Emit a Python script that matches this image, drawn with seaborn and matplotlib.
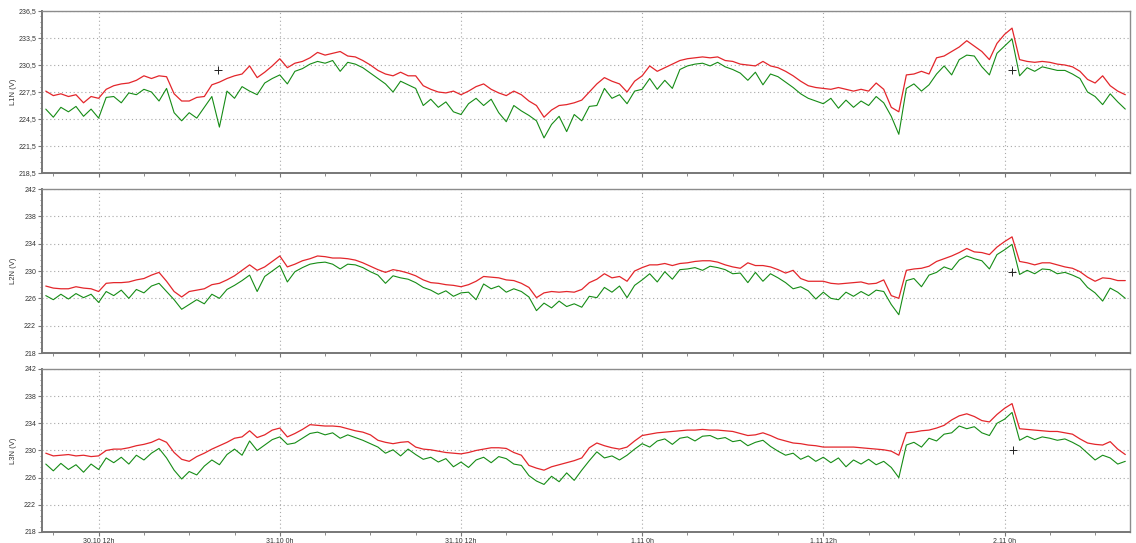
"""
Three-phase line-to-neutral voltage log (L1N / L2N / L3N), 30.10 - 2.11.
Red = maximum per interval, green = minimum per interval.
"""

import numpy as np
import pandas as pd
import matplotlib
matplotlib.use("Agg")
import matplotlib.pyplot as plt
import matplotlib.dates as mdates
import matplotlib.ticker as ticker
import seaborn as sns

# ---------------------------------------------------------------------------
# Data (30-minute steps from 30.10 08:30)
# ---------------------------------------------------------------------------

START = "2023-10-30 08:30"
STEP = "30min"

l1_max = [
    227.6, 227.1, 227.3, 227.0, 227.2, 226.3, 227.0, 226.8,
    227.8, 228.2, 228.4, 228.5, 228.8, 229.3, 229.0, 229.3,
    229.2, 227.3, 226.5, 226.5, 226.9, 227.0, 228.3, 228.6,
    229.0, 229.3, 229.5, 230.4, 229.1, 229.7, 230.4, 231.2,
    230.2, 230.7, 230.9, 231.3, 231.9, 231.6, 231.8, 232.0,
    231.5, 231.4, 231.0, 230.5, 229.9, 229.5, 229.3, 229.7,
    229.3, 229.3, 228.2, 227.8, 227.5, 227.4, 227.6, 227.2,
    227.6, 228.1, 228.4, 227.8, 227.4, 227.1, 227.6, 227.2,
    226.5, 226.0, 224.7, 225.5, 226.0, 226.1, 226.3, 226.6,
    227.5, 228.4, 229.1, 228.7, 228.4, 227.5, 228.7, 229.3,
    230.4, 229.8, 230.2, 230.6, 231.0, 231.2, 231.3, 231.4,
    231.3, 231.4, 231.0, 230.9, 230.6, 230.5, 230.4, 230.9,
    230.4, 230.2, 229.8, 229.3, 228.7, 228.2, 228.0, 227.9,
    227.8, 228.0, 227.8, 227.6, 227.8, 227.6, 228.5, 227.8,
    225.8, 225.3, 229.4, 229.5, 229.8, 229.5, 231.3, 231.5,
    232.0, 232.5, 233.2, 232.6, 232.0, 231.1, 232.9, 233.9,
    234.6, 231.1, 230.9, 230.8, 230.9, 230.8, 230.6, 230.5,
    230.3, 229.8, 228.9, 228.5, 229.3, 228.2, 227.6, 227.2,
]
l1_min = [
    225.6, 224.7, 225.8, 225.3, 225.9, 224.8, 225.6, 224.6,
    226.9, 227.0, 226.3, 227.4, 227.2, 227.8, 227.5, 226.5,
    227.9, 225.2, 224.3, 225.2, 224.6, 225.8, 227.0, 223.6,
    227.6, 226.8, 228.1, 227.6, 227.2, 228.5, 229.0, 229.4,
    228.4, 229.8, 230.1, 230.6, 230.9, 230.7, 231.0, 229.8,
    230.8, 230.6, 230.2, 229.6, 229.0, 228.4, 227.5, 228.7,
    228.3, 227.9, 226.0, 226.7, 225.8, 226.4, 225.3, 225.0,
    226.2, 226.8, 226.0, 226.7, 225.2, 224.2, 226.0, 225.4,
    224.9, 224.3, 222.4, 223.9, 224.8, 223.1, 225.0, 224.3,
    225.9, 226.0, 227.9, 226.8, 227.2, 226.2, 227.6, 227.8,
    229.0, 227.8, 228.8, 227.9, 230.0, 230.4, 230.6, 230.7,
    230.4, 230.8, 230.3, 230.0, 229.6, 228.8, 229.7, 228.3,
    229.5, 229.2, 228.6, 228.0, 227.3, 226.8, 226.5, 226.2,
    226.8, 225.7, 226.6, 225.8, 226.5, 226.0, 227.0, 226.3,
    224.8, 222.8, 227.9, 228.4, 227.6, 228.3, 229.5, 230.4,
    229.4, 231.1, 231.6, 231.5, 230.3, 229.4, 231.8, 232.6,
    233.4, 229.3, 230.2, 229.8, 230.3, 230.1, 229.9, 229.9,
    229.5, 229.0, 227.5, 227.0, 226.1, 227.3, 226.4, 225.6,
]

l2_max = [
    227.8, 227.5, 227.4, 227.4, 227.7, 227.5, 227.4, 227.0,
    228.2, 228.3, 228.3, 228.4, 228.7, 228.9, 229.4, 229.8,
    228.5, 227.0, 226.2, 227.0, 227.2, 227.4, 228.0, 228.2,
    228.7, 229.3, 230.1, 230.9, 230.1, 230.6, 231.4, 232.2,
    230.6, 231.0, 231.5, 231.8, 232.2, 232.1, 231.9, 231.9,
    231.8, 231.6, 231.2, 230.7, 230.2, 229.8, 230.2, 230.0,
    229.7, 229.3, 228.7, 228.3, 228.2, 228.0, 227.9, 227.7,
    228.0, 228.5, 229.2, 229.1, 229.0, 228.7, 228.6, 228.2,
    227.6, 226.1, 226.8, 227.0, 226.9, 227.0, 226.9, 227.3,
    228.3, 228.8, 229.6, 229.0, 229.2, 228.5, 230.0, 230.5,
    230.9, 230.9, 231.1, 230.8, 231.1, 231.2, 231.4, 231.5,
    231.5, 231.3, 230.9, 230.6, 230.4, 231.2, 230.8, 230.8,
    230.6, 230.2, 229.7, 230.1, 228.9, 228.5, 228.5, 228.5,
    228.2, 228.1, 228.2, 228.3, 228.4, 228.1, 228.2, 228.7,
    226.4, 226.0, 230.1, 230.3, 230.4, 230.7, 231.4, 231.8,
    232.2, 232.7, 233.3, 232.8, 232.7, 232.4, 233.5, 234.3,
    235.0, 231.4, 231.2, 230.9, 231.2, 231.2, 230.9, 230.6,
    230.4, 229.9, 229.1, 228.5, 229.0, 228.9, 228.6, 228.6,
]
l2_min = [
    226.4, 225.8, 226.6, 225.9, 226.7, 226.1, 226.6, 225.4,
    227.0, 226.4, 227.2, 226.0, 227.3, 226.8, 227.8, 228.2,
    227.0, 225.8, 224.4, 225.1, 225.8, 225.2, 226.6, 226.0,
    227.3, 227.9, 228.6, 229.4, 227.0, 229.2, 230.0, 230.8,
    228.4, 229.9, 230.5, 231.0, 231.2, 231.3, 231.0, 230.3,
    231.0, 230.9, 230.5, 229.9, 229.4, 228.2, 229.3, 229.0,
    228.8, 228.3, 227.6, 227.2, 226.6, 227.1, 226.3, 226.8,
    226.9, 225.8, 228.1, 227.4, 227.8, 226.9, 227.4, 227.0,
    226.2, 224.2, 225.3, 224.6, 225.6, 224.8, 225.2, 224.7,
    226.3, 226.1, 227.6, 226.9, 227.8, 226.1, 227.9, 228.7,
    229.6, 228.4, 229.9, 228.8, 230.2, 230.3, 230.5, 230.1,
    230.7, 230.5, 230.2, 229.6, 229.7, 228.3, 229.8, 228.5,
    229.6, 229.0, 228.3, 227.4, 227.7, 227.1, 225.9, 226.9,
    226.0, 225.8, 226.9, 226.3, 227.0, 226.4, 227.2, 227.0,
    225.1, 223.6, 228.6, 228.9, 227.7, 229.4, 229.8, 230.6,
    230.2, 231.6, 232.2, 231.8, 231.5, 230.3, 232.4, 233.1,
    233.9, 229.5, 230.1, 229.6, 230.3, 230.2, 229.6, 229.8,
    229.4, 228.9, 227.6, 226.8, 225.6, 227.5, 226.9, 226.0,
]

l3_max = [
    229.6, 229.2, 229.3, 229.4, 229.2, 229.3, 229.1, 229.2,
    230.0, 230.2, 230.2, 230.4, 230.7, 230.9, 231.2, 231.7,
    231.2, 229.7, 228.7, 228.4, 229.1, 229.6, 230.2, 230.7,
    231.2, 231.8, 232.0, 232.9, 231.9, 232.3, 233.0, 233.3,
    232.0, 232.5, 233.1, 233.8, 233.7, 233.6, 233.6, 233.5,
    233.2, 232.9, 232.7, 232.3, 231.5, 231.2, 231.0, 231.2,
    231.3, 230.5, 230.2, 230.1, 229.9, 229.7, 229.6, 229.5,
    229.7, 230.0, 230.2, 230.4, 230.4, 230.3, 229.7, 229.3,
    227.8, 227.4, 227.1, 227.6, 227.9, 228.2, 228.5, 228.9,
    230.4, 231.1, 230.7, 230.4, 230.2, 230.5, 231.4, 232.2,
    232.4, 232.6, 232.7, 232.8, 232.9, 233.0, 233.0, 233.1,
    233.0, 233.0, 232.9, 232.8, 232.5, 232.2, 232.3, 232.6,
    232.2, 231.7, 231.4, 231.1, 231.0, 230.8, 230.7, 230.5,
    230.5, 230.5, 230.5, 230.5, 230.4, 230.3, 230.2, 230.1,
    229.9, 229.3, 232.6, 232.7, 232.9, 233.0, 233.3, 233.7,
    234.5, 235.1, 235.4, 235.0, 234.4, 234.2, 235.3, 236.2,
    236.9, 233.2, 233.1, 233.0, 232.9, 232.8, 232.8, 232.6,
    232.4, 231.7, 231.1, 230.9, 230.8, 231.3, 230.2, 229.4,
]
l3_min = [
    228.0, 227.0, 228.1, 227.2, 227.9, 226.8, 228.0, 227.2,
    228.9, 228.2, 229.0, 228.0, 229.3, 228.6, 229.6, 230.3,
    228.9, 227.1, 225.8, 226.9, 226.4, 227.7, 228.6, 227.9,
    229.4, 230.2, 229.3, 231.4, 230.0, 230.8, 231.6, 232.0,
    230.9, 231.1, 231.8, 232.5, 232.7, 232.3, 232.6, 231.8,
    232.3, 231.9, 231.5, 231.0, 230.5, 229.6, 230.1, 229.2,
    230.2, 229.4, 228.7, 229.0, 228.3, 228.8, 227.6, 228.3,
    227.5, 228.6, 229.0, 228.2, 229.1, 228.8, 228.0, 227.8,
    226.3, 225.5, 225.0, 226.2, 225.4, 226.7, 225.6, 227.1,
    228.5, 229.8, 228.9, 229.2, 228.6, 229.3, 230.2, 231.0,
    230.5, 231.4, 231.7, 230.9, 231.8, 232.0, 231.4, 232.1,
    232.2, 231.7, 231.9, 231.3, 231.5, 230.7, 231.2, 231.5,
    230.6, 229.9, 229.3, 229.6, 228.7, 229.2, 228.4, 229.0,
    228.2, 228.9, 227.6, 228.6, 228.0, 228.7, 227.9, 228.4,
    227.5, 226.0, 230.8, 231.2, 230.5, 231.8, 231.4, 232.4,
    232.6, 233.6, 233.2, 233.5, 232.6, 232.2, 234.0, 234.6,
    235.6, 231.5, 232.1, 231.6, 232.0, 231.8, 231.5, 231.7,
    231.2, 230.6, 229.6, 228.6, 229.3, 228.9, 228.0, 228.4,
]

# cursor crosses per panel
cursor_times = [
    ["2023-10-30 19:53", "2023-11-02 00:30"],
    ["2023-11-02 00:30"],
    ["2023-11-02 00:33"],
]
cursor_values = [[229.9, 229.9], [229.8], [230.1]]

labels = ["L1N (V)", "L2N (V)", "L3N (V)"]
yticks = [
    [218.5, 221.5, 224.5, 227.5, 230.5, 233.5, 236.5],
    [218, 222, 226, 230, 234, 238, 242],
    [218, 222, 226, 230, 234, 238, 242],
]

X_START = pd.Timestamp("2023-10-30 08:16")
X_END = pd.Timestamp("2023-11-02 08:20")

RED = "#e3262b"
GREEN = "#168c16"
FRAME = "#8c8c8c"

# ---------------------------------------------------------------------------
# Plot
# ---------------------------------------------------------------------------

sns.set_style("white")
plt.rcParams["font.family"] = ["Liberation Sans", "DejaVu Sans"]

times = pd.date_range(START, periods=len(l1_max), freq=STEP)
series = [(l1_max, l1_min), (l2_max, l2_min), (l3_max, l3_min)]

fig = plt.figure(figsize=(11.36, 5.43), dpi=100)
boxes = [
    (0.0372, 0.6814, 0.9578, 0.2983),
    (0.0372, 0.3499, 0.9578, 0.3020),
    (0.0372, 0.0203, 0.9578, 0.3002),
]


def day_hour(x, _pos):
    d = mdates.num2date(x)
    return f"{d.day}.{d.month} {d.hour}h"


for i, (vmax, vmin) in enumerate(series):
    ax = fig.add_axes(boxes[i])
    df = pd.DataFrame({"time": times, "max": vmax, "min": vmin})

    sns.lineplot(data=df, x="time", y="min", ax=ax, color=GREEN,
                 linewidth=0.8, estimator=None, legend=False)
    sns.lineplot(data=df, x="time", y="max", ax=ax, color=RED,
                 linewidth=0.9, estimator=None, legend=False)

    cur = pd.DataFrame({"time": pd.to_datetime(cursor_times[i]),
                        "v": cursor_values[i]})
    sns.scatterplot(data=cur, x="time", y="v", ax=ax, marker="+",
                    color="#222222", s=28, linewidth=0.7, legend=False,
                    zorder=5)

    ticks = yticks[i]
    ax.set_ylim(ticks[0], ticks[-1])
    ax.set_xlim(X_START, X_END)

    step = ticks[1] - ticks[0]
    ax.yaxis.set_major_locator(ticker.FixedLocator(ticks))
    ax.yaxis.set_minor_locator(ticker.FixedLocator(
        np.arange(ticks[0], ticks[-1] + 1e-6, step / 5)))
    if i == 0:
        ax.yaxis.set_major_formatter(
            ticker.FuncFormatter(lambda v, _p: f"{v:.1f}".replace(".", ",")))
    else:
        ax.yaxis.set_major_formatter(
            ticker.FuncFormatter(lambda v, _p: f"{v:.0f}"))

    ax.xaxis.set_major_locator(mdates.HourLocator(byhour=[0, 12]))
    ax.xaxis.set_minor_locator(mdates.HourLocator(byhour=range(0, 24, 3)))
    ax.xaxis.set_major_formatter(ticker.FuncFormatter(day_hour))

    ax.grid(which="major", linestyle=(0, (1, 2.5)), color="#a8a8a8",
            linewidth=0.8)
    ax.set_axisbelow(True)

    for name, sp in ax.spines.items():
        sp.set_visible(True)
        sp.set_color(FRAME if name in ("top", "right") else "#777777")
        sp.set_linewidth(1.0 if name in ("top", "right") else 1.4)

    ax.tick_params(axis="both", which="major", length=3, width=0.8,
                   color="#777777", labelsize=5, labelcolor="#333333",
                   pad=1.5, left=True, bottom=True)
    ax.tick_params(axis="both", which="minor", length=1.8, width=0.6,
                   color="#777777", left=True, bottom=True)

    ax.set_ylabel(labels[i], fontsize=5.5, color="#333333")
    ax.yaxis.set_label_coords(-0.023, 0.5)
    ax.set_xlabel("")
    if i < 2:
        ax.tick_params(axis="x", which="both", labelbottom=False)

fig.savefig("out.png", dpi=100)
plt.close(fig)
